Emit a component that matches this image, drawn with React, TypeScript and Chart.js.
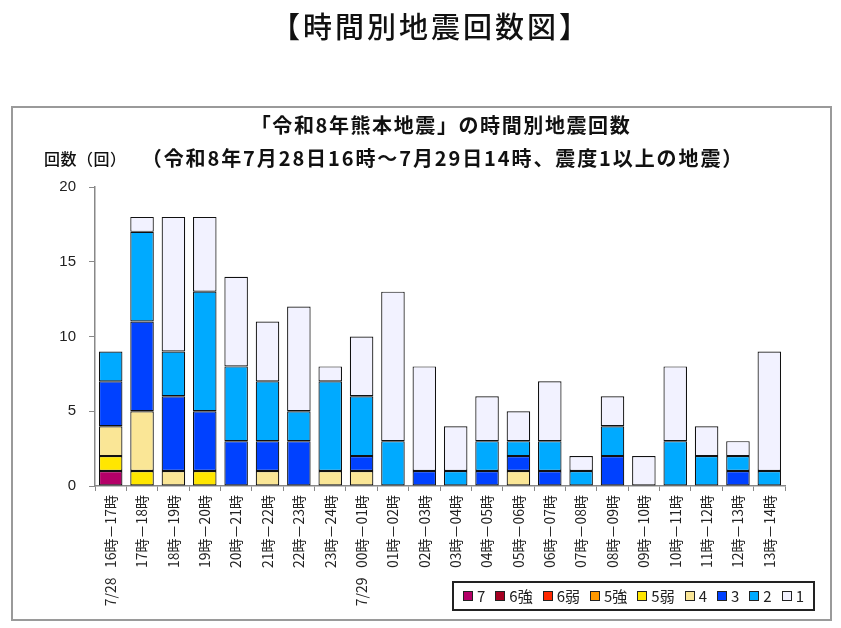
import React, { useEffect, useRef } from "react";
import { Chart, registerables } from "chart.js";

Chart.register(...registerables);

const categories = [
  "7/28   16時－17時",
  "17時－18時",
  "18時－19時",
  "19時－20時",
  "20時－21時",
  "21時－22時",
  "22時－23時",
  "23時－24時",
  "7/29   00時－01時",
  "01時－02時",
  "02時－03時",
  "03時－04時",
  "04時－05時",
  "05時－06時",
  "06時－07時",
  "07時－08時",
  "08時－09時",
  "09時－10時",
  "10時－11時",
  "11時－12時",
  "12時－13時",
  "13時－14時",
];

const intensity7 = [1, 0, 0, 0, 0, 0, 0, 0, 0, 0, 0, 0, 0, 0, 0, 0, 0, 0, 0, 0, 0, 0];
const intensity6Upper = [0, 0, 0, 0, 0, 0, 0, 0, 0, 0, 0, 0, 0, 0, 0, 0, 0, 0, 0, 0, 0, 0];
const intensity6Lower = [0, 0, 0, 0, 0, 0, 0, 0, 0, 0, 0, 0, 0, 0, 0, 0, 0, 0, 0, 0, 0, 0];
const intensity5Upper = [0, 0, 0, 0, 0, 0, 0, 0, 0, 0, 0, 0, 0, 0, 0, 0, 0, 0, 0, 0, 0, 0];
const intensity5Lower = [1, 1, 0, 1, 0, 0, 0, 0, 0, 0, 0, 0, 0, 0, 0, 0, 0, 0, 0, 0, 0, 0];
const intensity4 = [2, 4, 1, 0, 0, 1, 0, 1, 1, 0, 0, 0, 0, 1, 0, 0, 0, 0, 0, 0, 0, 0];
const intensity3 = [3, 6, 5, 4, 3, 2, 3, 0, 1, 0, 1, 0, 1, 1, 1, 0, 2, 0, 0, 0, 1, 0];
const intensity2 = [2, 6, 3, 8, 5, 4, 2, 6, 4, 3, 0, 1, 2, 1, 2, 1, 2, 0, 3, 2, 1, 1];
const intensity1 = [0, 1, 9, 5, 6, 4, 7, 1, 4, 10, 7, 3, 3, 2, 4, 1, 2, 2, 5, 2, 1, 8];

const seriesLabels = ["7", "6強", "6弱", "5強", "5弱", "4", "3", "2", "1"];
const seriesColors = [
  "#B40068",
  "#A50021",
  "#FF2800",
  "#FF9900",
  "#FFE600",
  "#FAE696",
  "#0041FF",
  "#00AAFF",
  "#F2F2FF",
];
const seriesValues = [
  intensity7,
  intensity6Upper,
  intensity6Lower,
  intensity5Upper,
  intensity5Lower,
  intensity4,
  intensity3,
  intensity2,
  intensity1,
];

const yTicks = [0, 5, 10, 15, 20];

const pageTitle = "【時間別地震回数図】";
const chartTitle1 = "「令和8年熊本地震」の時間別地震回数";
const chartTitle2 = "（令和8年7月28日16時～7月29日14時、震度1以上の地震）";
const yAxisTitle = "回数（回）";

const JP = '"Noto Sans CJK JP", "Noto Sans", sans-serif';

export default function App() {
  const canvasRef = useRef<HTMLCanvasElement | null>(null);

  useEffect(() => {
    const canvas = canvasRef.current;
    if (!canvas) return;
    const chart = new Chart(canvas, {
      type: "bar",
      data: {
        labels: categories,
        datasets: seriesLabels.map((label, i) => ({
          label,
          data: seriesValues[i].map((v) => (v === 0 ? null : v)),
          backgroundColor: seriesColors[i],
          borderColor: "#111",
          borderWidth: 1.2,
          borderSkipped: false,
          categoryPercentage: 1,
          barPercentage: 0.75,
        })),
      },
      options: {
        animation: false,
        responsive: false,
        maintainAspectRatio: false,
        layout: { padding: { left: 0, top: 187, right: 56, bottom: 20 } },
        plugins: {
          legend: { display: false },
          tooltip: { enabled: false },
          title: { display: false },
        },
        scales: {
          x: {
            stacked: true,
            offset: true,
            grid: {
              display: true,
              drawOnChartArea: false,
              drawTicks: true,
              tickLength: 5,
              color: "#888",
              offset: true,
            },
            border: { color: "#888", width: 1.5 },
            ticks: {
              autoSkip: false,
              minRotation: 90,
              maxRotation: 90,
              padding: 4,
              color: "#222",
              font: { family: JP, size: 14 },
            },
            afterFit: (s: any) => {
              s.height = 122;
            },
          },
          y: {
            stacked: true,
            min: 0,
            max: 20,
            afterBuildTicks: (s: any) => {
              s.ticks = yTicks.map((v) => ({ value: v }));
            },
            grid: {
              display: true,
              drawOnChartArea: false,
              drawTicks: true,
              tickLength: 6,
              color: "#888",
            },
            border: { color: "#888", width: 1.5 },
            ticks: {
              padding: 13,
              color: "#222",
              font: { family: '"Liberation Sans", Arial, sans-serif', size: 15 },
            },
            afterFit: (s: any) => {
              s.width = 95;
            },
          },
        },
      },
    });
    return () => chart.destroy();
  }, []);

  const legendItemStyle: React.CSSProperties = {
    display: "flex",
    alignItems: "center",
    marginRight: 10,
    flexShrink: 0,
    whiteSpace: "nowrap",
  };

  return (
    <div
      style={{
        position: "fixed",
        left: 0,
        top: 0,
        width: 841,
        height: 628,
        background: "#fff",
        fontFamily: JP,
        color: "#111",
      }}
    >
      <div
        style={{
          position: "absolute",
          left: 11,
          top: 106,
          width: 821,
          height: 515,
          border: "2px solid #9a9a9a",
          boxSizing: "border-box",
        }}
      />
      <canvas
        ref={canvasRef}
        width={841}
        height={628}
        style={{ position: "absolute", left: 0, top: 0, width: 841, height: 628 }}
      />
      <div
        style={{
          position: "absolute",
          left: 431,
          top: 8,
          transform: "translateX(-50%)",
          fontSize: 29,
          lineHeight: "34px",
          fontWeight: 500,
          letterSpacing: 3,
          whiteSpace: "nowrap",
        }}
      >
        {pageTitle}
      </div>
      <div
        style={{
          position: "absolute",
          left: 441,
          top: 112,
          transform: "translateX(-50%)",
          fontSize: 20,
          lineHeight: "26px",
          fontWeight: 700,
          letterSpacing: 1.6,
          whiteSpace: "nowrap",
        }}
      >
        {chartTitle1}
      </div>
      <div
        style={{
          position: "absolute",
          left: 443,
          top: 145,
          transform: "translateX(-50%)",
          fontSize: 20,
          lineHeight: "26px",
          fontWeight: 700,
          letterSpacing: 1.9,
          whiteSpace: "nowrap",
        }}
      >
        {chartTitle2}
      </div>
      <div
        style={{
          position: "absolute",
          left: 44,
          top: 147,
          fontSize: 16,
          lineHeight: "22px",
          fontWeight: 500,
          letterSpacing: 0.5,
          whiteSpace: "nowrap",
        }}
      >
        {yAxisTitle}
      </div>
      <div
        style={{
          position: "absolute",
          left: 452,
          top: 581,
          width: 363,
          height: 30,
          border: "2px solid #222",
          boxSizing: "border-box",
          display: "flex",
          alignItems: "center",
          paddingLeft: 9,
          fontSize: 15,
          color: "#222",
          overflow: "hidden",
        }}
      >
        {seriesLabels.map((label, i) => (
          <div key={label} style={legendItemStyle}>
            <span
              style={{
                display: "inline-block",
                width: 10,
                height: 10,
                background: seriesColors[i],
                border: "1.5px solid #222",
                boxSizing: "border-box",
                marginRight: 4,
                flexShrink: 0,
              }}
            />
            <span style={{ lineHeight: "18px" }}>{label}</span>
          </div>
        ))}
      </div>
    </div>
  );
}
